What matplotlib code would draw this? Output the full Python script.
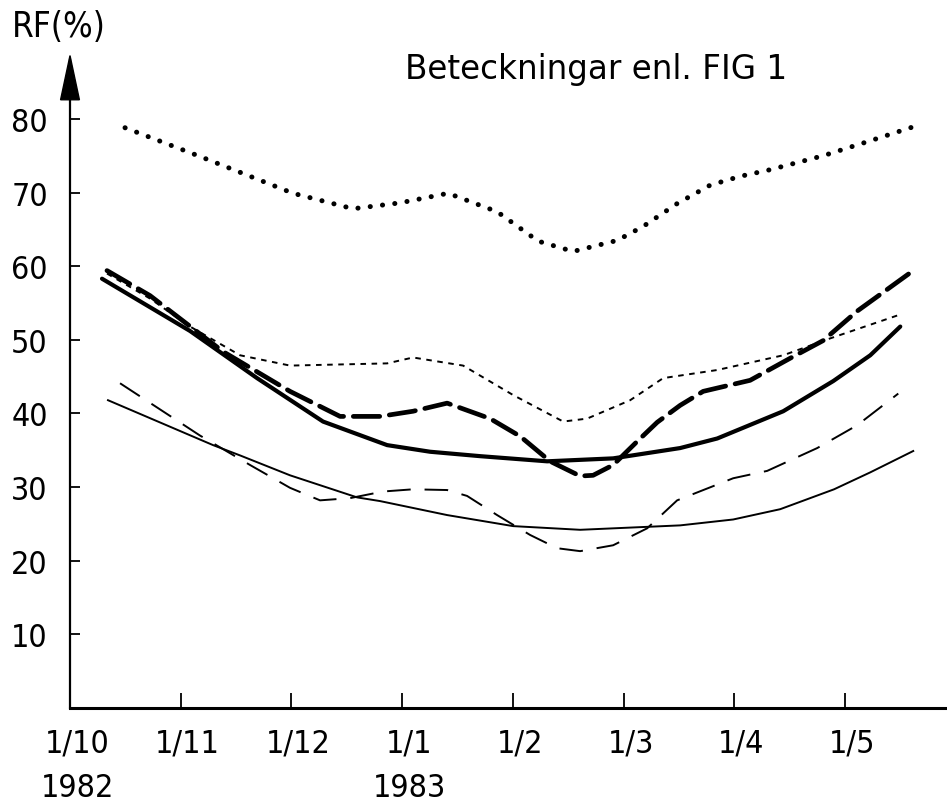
import matplotlib
matplotlib.use("Agg")
import matplotlib.pyplot as plt
from matplotlib.patches import Polygon
import matplotlib.transforms as mtransforms

plt.rcParams['lines.scale_dashes'] = False
FONT = ['DejaVu Sans']

# Month positions (0 = 1/10 1982, 1 = 1/11, ...), RF values in %
month_ticks = [0, 1, 2, 3, 4, 5, 6, 7]
month_labels = ["1/10\n1982", "1/11", "1/12", "1/1\n1983", "1/2", "1/3", "1/4", "1/5"]
y_ticks = [10, 20, 30, 40, 50, 60, 70, 80]

dotted_x = [0.497, 1.174, 2.014, 2.556, 2.981, 3.415, 3.857, 4.228, 4.544, 4.942,
            5.176, 5.483, 5.781, 6.052, 6.323, 6.802, 7.200, 7.651]
dotted_y = [78.8, 74.9, 69.9, 67.8, 68.6, 69.9, 67.4, 63.4, 62.0, 63.5,
            65.4, 68.5, 71.0, 72.2, 73.1, 75.0, 76.9, 79.1]

thick_dash_x = [0.334, 0.723, 1.382, 1.987, 2.439, 2.800, 3.098, 3.406, 3.794, 4.065,
                4.336, 4.607, 4.724, 4.905, 5.122, 5.303, 5.510, 5.718, 6.142, 6.504,
                6.802, 7.109, 7.615]
thick_dash_y = [59.4, 56.0, 48.4, 43.0, 39.6, 39.6, 40.3, 41.4, 39.3, 36.9,
                33.5, 31.5, 31.6, 33.0, 36.2, 38.8, 41.1, 43.0, 44.5, 47.5,
                49.9, 53.9, 59.4]

thin_short_x = [0.334, 0.723, 1.084, 1.536, 1.987, 2.864, 3.098, 3.550, 4.002, 4.454,
                4.670, 5.059, 5.357, 5.845, 6.441, 6.866, 7.471]
thin_short_y = [59.0, 55.6, 51.8, 47.9, 46.5, 46.8, 47.6, 46.5, 42.5, 38.9,
                39.3, 41.8, 44.8, 45.9, 47.9, 50.2, 53.3]

thick_solid_x = [0.289, 1.084, 1.689, 2.285, 2.864, 3.252, 3.704, 4.309, 4.905, 5.510,
                 5.845, 6.441, 6.893, 7.227, 7.498]
thick_solid_y = [58.3, 51.2, 44.8, 38.9, 35.7, 34.8, 34.2, 33.5, 33.9, 35.3,
                 36.6, 40.3, 44.4, 47.9, 51.8]

thin_solid_x = [0.343, 1.292, 1.536, 1.987, 2.593, 2.800, 3.406, 4.002, 4.607, 5.510,
                5.989, 6.414, 6.900, 7.227, 7.615]
thin_solid_y = [41.8, 35.7, 34.3, 31.6, 28.6, 28.1, 26.2, 24.7, 24.2, 24.8,
                25.6, 27.0, 29.7, 32.0, 34.9]

thin_long_x = [0.452, 1.174, 1.626, 1.987, 2.258, 2.529, 2.827, 3.098, 3.406, 3.586,
               3.857, 4.155, 4.399, 4.607, 4.905, 5.212, 5.483, 5.989, 6.296, 6.748,
               7.109, 7.480]
thin_long_y = [44.1, 37.0, 33.0, 29.9, 28.2, 28.5, 29.4, 29.7, 29.6, 28.8,
               26.2, 23.5, 21.7, 21.3, 22.1, 24.4, 28.2, 31.2, 32.2, 35.3,
               38.4, 42.7]

fig = plt.figure(figsize=(9.47, 8.03), dpi=100)
ax = fig.add_axes([70 / 947, 1 - 709 / 803, 1 - 70 / 947, (709 - 61) / 803])
ax.set_xlim(0, 7.92)
ax.set_ylim(0, 88)

k = 'black'
ax.plot(dotted_x, dotted_y, color=k, lw=3.6, linestyle=(0, (0.1, 8.8)),
        dash_capstyle='round', solid_capstyle='round')
ax.plot(thick_dash_x, thick_dash_y, color=k, lw=3.4, linestyle=(0, (19, 7)),
        dash_capstyle='round')
ax.plot(thin_short_x, thin_short_y, color=k, lw=1.4, linestyle=(0, (4, 4)))
ax.plot(thick_solid_x, thick_solid_y, color=k, lw=3.0, solid_capstyle='round')
ax.plot(thin_solid_x, thin_solid_y, color=k, lw=1.4)
ax.plot(thin_long_x, thin_long_y, color=k, lw=1.4, linestyle=(0, (17, 10)))

for s in ['top', 'right']:
    ax.spines[s].set_visible(False)
ax.spines['left'].set_linewidth(1.6)
ax.spines['bottom'].set_linewidth(2.2)

ax.set_xticks(month_ticks)
ax.set_xticklabels(month_labels, fontsize=23, family=FONT, stretch='condensed',
                   linespacing=1.55)
ax.set_yticks(y_ticks)
ax.set_yticklabels([str(v) for v in y_ticks], fontsize=23, family=FONT,
                   stretch='condensed')
ax.tick_params(axis='x', direction='in', length=11, width=1.3, pad=14)
ax.tick_params(axis='y', direction='in', length=7, width=1.3, pad=16)
offset = mtransforms.ScaledTranslation(7 / 100, 0, fig.dpi_scale_trans)
for lab in ax.get_xticklabels():
    lab.set_transform(lab.get_transform() + offset)

# arrow head on y axis
arrow = Polygon([(-0.085, 82.6), (0.085, 82.6), (0.0, 88.6)], closed=True,
                color=k, clip_on=False)
ax.add_patch(arrow)

fig.text(12 / 947, 1 - 27 / 803, "RF(%)", fontsize=25, family=FONT,
         stretch='condensed', va='center', ha='left')
fig.text(405 / 947, 1 - 69 / 803, "Beteckningar enl. FIG 1", fontsize=23.5,
         family=FONT, va='center', ha='left')

fig.savefig("out.png", dpi=100)
